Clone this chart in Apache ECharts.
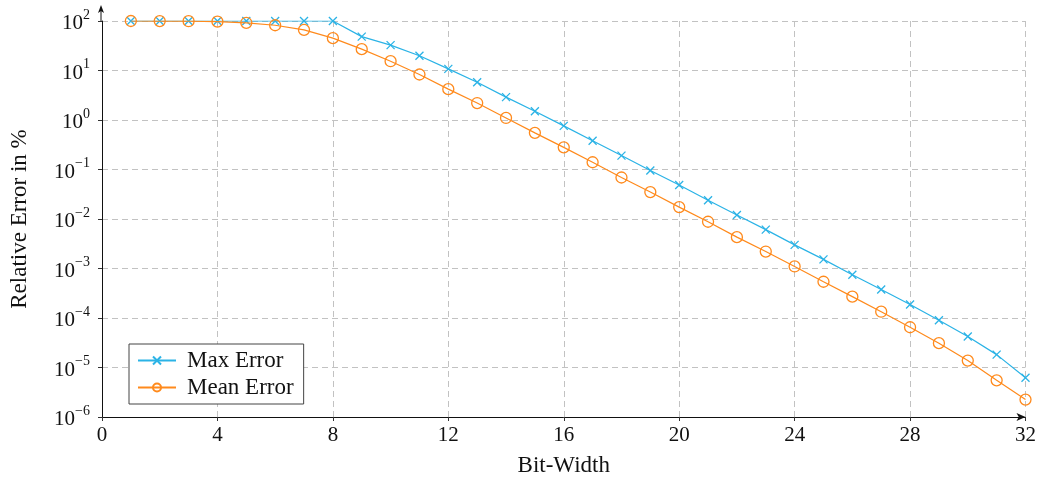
<!DOCTYPE html>
<html>
<head>
<meta charset="utf-8">
<script src="https://cdn.jsdelivr.net/npm/echarts@6/dist/echarts.min.js"></script>
<style>
  html, body { margin: 0; padding: 0; background: #fff; }
  #chart { width: 1039px; height: 482px; }
</style>
</head>
<body>
<div id="chart"></div>
<script>
const bitWidths = [1, 2, 3, 4, 5, 6, 7, 8, 9, 10, 11, 12, 13, 14, 15, 16,
  17, 18, 19, 20, 21, 22, 23, 24, 25, 26, 27, 28, 29, 30, 31, 32]

const maxError = [100, 100, 100, 100, 100, 100, 100, 100, 48.4, 32.6, 19.9, 10.8,
  5.8, 2.9, 1.5, 0.76, 0.38, 0.191, 0.0955, 0.0486, 0.0239, 0.012, 0.0061, 0.003,
  0.00153, 0.00075, 0.000376, 0.000188, 9.0e-5, 4.24e-5, 1.82e-5, 6.2e-6]

const meanError = [100, 99.5, 99, 97, 92, 82, 66, 45, 27, 15.4, 8.3, 4.2,
  2.2, 1.1, 0.55, 0.28, 0.14, 0.069, 0.035, 0.0174, 0.0088, 0.0043, 0.0022, 0.0011,
  0.00054, 0.00027, 0.000134, 6.5e-5, 3.1e-5, 1.38e-5, 5.5e-6, 2.25e-6]

const xTicks = [0, 4, 8, 12, 16, 20, 24, 28, 32]

const CYAN = '#2bb3e6'
const ORANGE = '#ff8a1c'
const FONT = 'Liberation Serif'
const GRID = { left: 101, right: 11, top: 21, bottom: 62 }

const chart = echarts.init(document.getElementById('chart'))

const pairs = (ys) => bitWidths.map((x, i) => [x, ys[i]])

// log tick label as 10 with a raised exponent
const expLabel = (v) => {
  const e = Math.round(Math.log10(v))
  const s = e < 0 ? '\u2212' + Math.abs(e) : String(e)
  return `{b|10}{e|${s}}`
}

const dashed = { show: true, lineStyle: { color: '#c2c2c2', type: [6, 4], width: 1 } }

const option = {
  animation: false,
  textStyle: { fontFamily: FONT },
  grid: GRID,
  legend: {
    orient: 'vertical',
    left: 129,
    top: 344,
    padding: [5, 10, 5, 8],
    itemGap: 4,
    itemWidth: 38,
    itemHeight: 10,
    backgroundColor: '#fff',
    borderColor: '#444',
    borderWidth: 1,
    borderRadius: 0,
    textStyle: { fontFamily: FONT, fontSize: 23, color: '#111', lineHeight: 23, padding: [0, 0, 0, 6] },
    data: ['Max Error', 'Mean Error']
  },
  xAxis: {
    type: 'value',
    min: 0,
    max: 32,
    interval: 4,
    name: 'Bit-Width',
    nameLocation: 'middle',
    nameGap: 37,
    nameTextStyle: { fontFamily: FONT, fontSize: 23, color: '#111' },
    axisLine: { lineStyle: { color: '#111', width: 1 }, symbol: ['none', 'arrow'], symbolSize: [6, 9] },
    axisTick: { show: true, length: 4, lineStyle: { color: '#333' } },
    axisLabel: { fontFamily: FONT, fontSize: 21, color: '#111', margin: 8,
      formatter: (v) => xTicks.includes(v) ? String(v) : '' },
    splitLine: dashed
  },
  yAxis: {
    type: 'log',
    logBase: 10,
    min: 1e-6,
    max: 100,
    interval: 1,
    name: 'Relative Error in %',
    nameLocation: 'middle',
    nameGap: 71,
    nameTextStyle: { fontFamily: FONT, fontSize: 23, color: '#111' },
    axisLine: { show: true, lineStyle: { color: '#111', width: 1 } },
    axisTick: { show: true, length: 4, lineStyle: { color: '#333' } },
    minorTick: { show: false },
    axisLabel: {
      margin: 12,
      formatter: expLabel,
      rich: {
        b: { fontFamily: FONT, fontSize: 21, color: '#111', lineHeight: 26, verticalAlign: 'bottom' },
        e: { fontFamily: FONT, fontSize: 14, color: '#111', lineHeight: 14, verticalAlign: 'top' }
      }
    },
    splitLine: dashed
  },
  graphic: [
    {
      type: 'line',
      shape: { x1: GRID.left, y1: GRID.top, x2: GRID.left, y2: 10 },
      style: { stroke: '#111', lineWidth: 1 },
      z: 10
    },
    {
      type: 'polygon',
      shape: { points: [[GRID.left - 3, 13], [GRID.left, 5], [GRID.left + 3, 13], [GRID.left, 11]] },
      style: { fill: '#111' },
      z: 10
    }
  ],
  series: [
    {
      name: 'Max Error',
      type: 'line',
      data: pairs(maxError),
      symbol: 'path://M0,0L10,10M10,0L0,10',
      symbolSize: 8,
      lineStyle: { color: CYAN, width: 1.2 },
      itemStyle: { color: CYAN, borderColor: CYAN, borderWidth: 1.3 },
      z: 3
    },
    {
      name: 'Mean Error',
      type: 'line',
      data: pairs(meanError),
      symbol: 'circle',
      symbolSize: 11,
      lineStyle: { color: ORANGE, width: 1.2 },
      itemStyle: { color: 'rgba(0,0,0,0)', borderColor: ORANGE, borderWidth: 1.3 },
      z: 4
    }
  ]
}

chart.setOption(option)
</script>
</body>
</html>
